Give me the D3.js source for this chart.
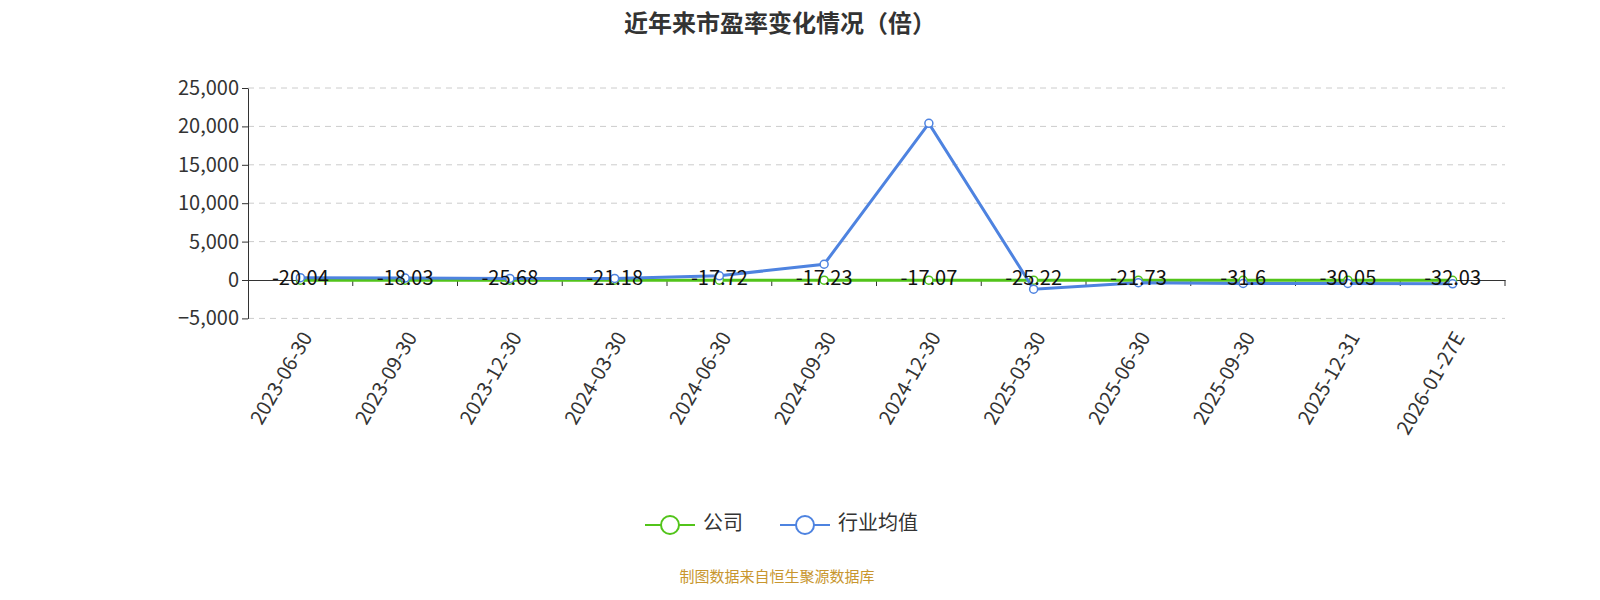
<!DOCTYPE html><html><head><meta charset="utf-8"><script src="https://cdn.jsdelivr.net/npm/d3@7"></script>
<style>body{margin:0;background:#fff}text{font-family:"Microsoft YaHei","Noto Sans CJK SC","Noto Sans",sans-serif}</style></head><body><svg id="c" width="1600" height="600"></svg>
<script>
const categories=["2023-06-30","2023-09-30","2023-12-30","2024-03-30","2024-06-30","2024-09-30","2024-12-30","2025-03-30","2025-06-30","2025-09-30","2025-12-31","2026-01-27E"];
const company=[-20.04,-18.03,-25.68,-21.18,-17.72,-17.23,-17.07,-25.22,-21.73,-31.6,-30.05,-32.03];
const industry=[300,250,200,200,550,2050,20400,-1200,-350,-450,-450,-500];
const yTicks=[-5000,0,5000,10000,15000,20000,25000];
const svg=d3.select("#c");
const x=d3.scaleBand().domain(categories).range([248,1505]);
const y=d3.scaleLinear().domain([-5000,25000]).range([318.4,88]);
svg.append("text").attr("x",780).attr("y",32).attr("text-anchor","middle").attr("font-size",24).attr("font-weight","bold").attr("fill","#333").text("近年来市盈率变化情况（倍）");
yTicks.forEach(t=>{if(t!==0)svg.append("line").attr("x1",248).attr("x2",1505).attr("y1",y(t)).attr("y2",y(t)).attr("stroke","#ccc").attr("stroke-dasharray","6,5");});
const ya=svg.append("g").attr("transform","translate(248,0)").call(d3.axisLeft(y).tickValues(yTicks).tickFormat(d3.format(",")).tickSize(6).tickSizeOuter(0));
ya.selectAll("text").attr("font-size",20).attr("fill","#333");ya.selectAll("line,path").attr("stroke","#333");
const xa=svg.append("g").attr("transform",`translate(0,${y(0)})`).call(d3.axisBottom(x).tickSize(6).tickSizeOuter(0).tickFormat(""));
xa.selectAll("line,path").attr("stroke","#333");
xa.selectAll(".tick line").attr("transform",`translate(${x.bandwidth()/2},0)`);
categories.forEach(c=>{const cx=x(c)+x.bandwidth()/2;svg.append("text").attr("transform",`translate(${cx+8},${y(-5000)+16}) rotate(-60)`).attr("text-anchor","end").attr("dominant-baseline","middle").attr("font-size",20).attr("fill","#333").text(c);});
const cx=(d,i)=>x(categories[i])+x.bandwidth()/2;
const line=d3.line().x(cx).y(d=>y(d));
function series(data,col){svg.append("path").datum(data).attr("d",line).attr("fill","none").attr("stroke",col).attr("stroke-width",3);
svg.selectAll(null).data(data).enter().append("circle").attr("cx",cx).attr("cy",d=>y(d)).attr("r",4).attr("fill","#fff").attr("stroke",col).attr("stroke-width",1.5);}
series(company,"#52c41a");series(industry,"#4e83e0");
svg.selectAll(null).data(company).enter().append("text").attr("x",cx).attr("y",d=>y(d)-1).attr("dominant-baseline","middle").attr("text-anchor","middle").attr("font-size",20).attr("fill","#111").text(d=>d);
const lg=[["公司","#52c41a",645],["行业均值","#4e83e0",780]];
lg.forEach(([t,c,lx])=>{svg.append("line").attr("x1",lx).attr("x2",lx+50).attr("y1",525).attr("y2",525).attr("stroke",c).attr("stroke-width",2);
svg.append("circle").attr("cx",lx+25).attr("cy",525).attr("r",9).attr("fill","#fff").attr("stroke",c).attr("stroke-width",2);
svg.append("text").attr("x",lx+58).attr("y",525).attr("dominant-baseline","middle").attr("font-size",20).attr("fill","#333").text(t);});
svg.append("text").attr("x",777).attr("y",578).attr("text-anchor","middle").attr("dominant-baseline","middle").attr("font-size",15).attr("fill","#c8962e").text("制图数据来自恒生聚源数据库");
</script></body></html>
